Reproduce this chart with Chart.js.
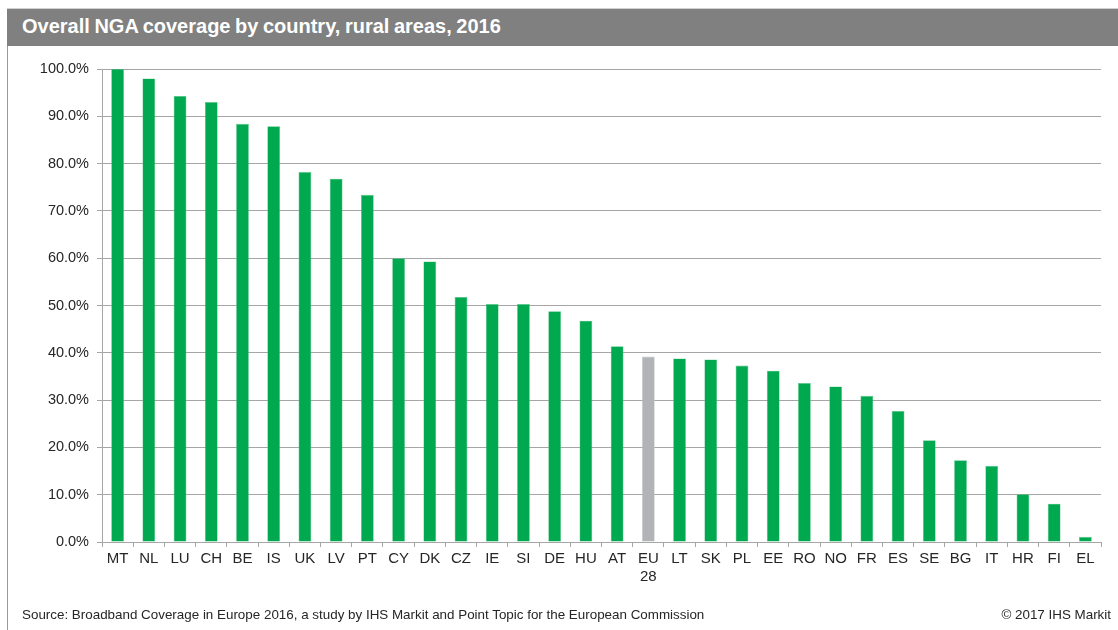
<!DOCTYPE html>
<html>
<head>
<meta charset="utf-8">
<script src="https://cdn.jsdelivr.net/npm/chart.js@4.4.1/dist/chart.umd.min.js"></script>
<style>
  html, body { margin: 0; padding: 0; background: #ffffff; }
  #wrap { position: relative; width: 1118px; height: 630px; overflow: hidden; background: #fff; font-family: "Liberation Sans", Arial, sans-serif; }
  #titlebar { position: absolute; left: 7px; top: 8px; width: 1111px; height: 38px; background: #7f807f; border-top: 1px solid #d0d0d0; box-sizing: border-box; }
  #title { position: absolute; left: 15px; top: 6px; color: #ffffff; font-weight: bold; font-size: 20px; letter-spacing: 0px; word-spacing: -1px; white-space: nowrap; }
  #leftline { position: absolute; left: 7px; top: 46px; width: 1px; height: 584px; background: #9a9a9a; }
  #source { position: absolute; left: 22px; top: 607px; font-size: 13.4px; color: #262626; white-space: nowrap; }
  #copy { position: absolute; right: 7px; top: 607px; font-size: 13.4px; color: #262626; white-space: nowrap; }
  #cv { position: absolute; left: 0; top: 0; }
</style>
</head>
<body>
<div id="wrap">
  <div id="titlebar"><div id="title">Overall NGA coverage by country, rural areas, 2016</div></div>
  <div id="leftline"></div>
  <canvas id="cv" width="1118" height="630"></canvas>
  <div id="source">Source: Broadband Coverage in Europe 2016, a study by IHS Markit and Point Topic for the European Commission</div>
  <div id="copy">© 2017 IHS Markit</div>
</div>
<script>
const categories = ["MT","NL","LU","CH","BE","IS","UK","LV","PT","CY","DK","CZ","IE","SI","DE","HU","AT",["EU","28"],"LT","SK","PL","EE","RO","NO","FR","ES","SE","BG","IT","HR","FI","EL"];
const coverage = [100, 98.0, 94.3, 93.0, 88.4, 87.9, 78.2, 76.8, 73.4, 60.0, 59.3, 51.8, 50.3, 50.3, 48.8, 46.8, 41.4, 39.2, 38.8, 38.6, 37.3, 36.2, 33.6, 32.9, 30.9, 27.7, 21.5, 17.3, 16.1, 10.1, 8.1, 1.1];
const highlightIndex = 17;
const yTicks = [0, 10, 20, 30, 40, 50, 60, 70, 80, 90, 100];

const green = "#00a84f";
const grey = "#b1b3b6";
const barColors = coverage.map((v, i) => i === highlightIndex ? grey : green);
const borderColors = coverage.map((v, i) => i === highlightIndex ? "#c8cacc" : "#5cc68a");

new Chart(document.getElementById("cv"), {
  type: "bar",
  data: {
    labels: categories,
    datasets: [{
      data: coverage,
      backgroundColor: barColors,
      borderColor: borderColors,
      borderWidth: 0.6,
      barPercentage: 0.41,
      categoryPercentage: 1.0
    }]
  },
  options: {
    responsive: false,
    animation: false,
    events: [],
    layout: { padding: { left: 0, right: 17, top: 69, bottom: 0 } },
    plugins: { legend: { display: false }, tooltip: { enabled: false }, title: { display: false } },
    scales: {
      x: {
        afterFit: (s) => { s.height = 88; },
        grid: { display: true, offset: true, drawOnChartArea: false, drawTicks: true, tickLength: 5, color: "#a6a6a6", lineWidth: 1 },
        border: { display: true, color: "#a6a6a6", width: 1 },
        ticks: { color: "#262626", font: { family: "'Liberation Sans', Arial, sans-serif", size: 15 }, padding: 3, maxRotation: 0, autoSkip: false }
      },
      y: {
        min: 0, max: 100,
        afterFit: (s) => { s.width = 102; },
        afterBuildTicks: (s) => { s.ticks = yTicks.map(v => ({ value: v })); },
        grid: { color: "#a6a6a6", lineWidth: 1, drawTicks: true, tickLength: 5 },
        border: { display: true, color: "#a6a6a6", width: 1 },
        ticks: {
          color: "#262626",
          font: { family: "'Liberation Sans', Arial, sans-serif", size: 14.5 },
          padding: 8,
          callback: (v) => v.toFixed(1) + "%"
        }
      }
    }
  }
});
</script>
</body>
</html>
